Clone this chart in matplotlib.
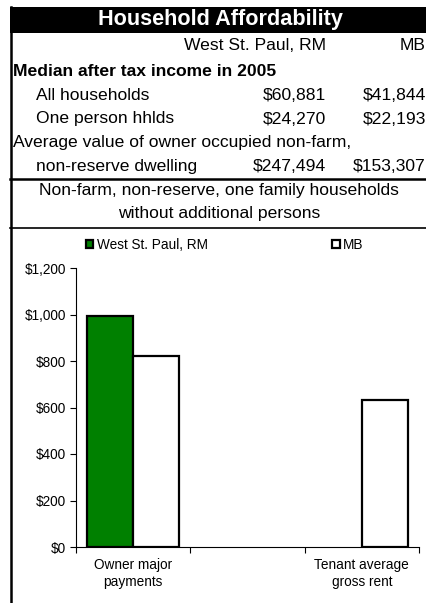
import matplotlib
matplotlib.use("Agg")
import matplotlib.pyplot as plt
import numpy as np
from matplotlib.patches import Rectangle
from matplotlib.lines import Line2D

plt.rcParams['font.family'] = ['Liberation Sans', 'DejaVu Sans']

# ---- data ----
title = "Household Affordability"
col_headers = ["West St. Paul, RM", "MB"]
income_label = "Median after tax income in 2005"
income_rows = ["All households", "One person hhlds"]
income_wsp = ["$60,881", "$24,270"]
income_mb = ["$41,844", "$22,193"]
dwelling_label = ["Average value of owner occupied non-farm,", "non-reserve dwelling"]
dwelling_wsp = "$247,494"
dwelling_mb = "$153,307"
note_lines = ["Non-farm, non-reserve, one family households", "without additional persons"]

categories = ["Owner major\npayments", "", "Tenant average\ngross rent"]
series_names = ["West St. Paul, RM", "MB"]
wsp_values = [995, np.nan, np.nan]
mb_values = [822, np.nan, 632]
yticks = [0, 200, 400, 600, 800, 1000, 1200]
ytick_labels = ["$0", "$200", "$400", "$600", "$800", "$1,000", "$1,200"]

W, H = 427, 603
fig = plt.figure(figsize=(W / 100, H / 100), dpi=100)

def fx(px):
    return px / W

def fy(py):
    return 1 - py / H

# frame: left vertical line, title bar, separators
fig.add_artist(Line2D([fx(11), fx(11)], [fy(7), fy(603)], color='black', lw=1.8))
fig.add_artist(Rectangle((fx(10), fy(33)), fx(427) - fx(10), fy(7) - fy(33),
                         facecolor='black', edgecolor='none'))
fig.add_artist(Line2D([fx(10), fx(427)], [fy(179), fy(179)], color='black', lw=1.8))
fig.add_artist(Line2D([fx(10), fx(427)], [fy(228), fy(228)], color='black', lw=1.2))

fs = 12.6
fig.text(fx(220), fy(20), title, color='white', fontsize=15.6, fontweight='bold',
         ha='center', va='center')
fig.text(fx(326), fy(46), col_headers[0], fontsize=fs, ha='right', va='center')
fig.text(fx(426), fy(46), col_headers[1], fontsize=fs, ha='right', va='center')
fig.text(fx(13), fy(71), income_label, fontsize=fs, fontweight='bold', ha='left', va='center')
row_y = [95, 119]
for lab, a, b, y in zip(income_rows, income_wsp, income_mb, row_y):
    fig.text(fx(36), fy(y), lab, fontsize=fs, ha='left', va='center')
    fig.text(fx(326), fy(y), a, fontsize=fs, ha='right', va='center')
    fig.text(fx(426), fy(y), b, fontsize=fs, ha='right', va='center')
fig.text(fx(13), fy(143), dwelling_label[0], fontsize=fs, ha='left', va='center')
fig.text(fx(36), fy(166), dwelling_label[1], fontsize=fs, ha='left', va='center')
fig.text(fx(326), fy(166), dwelling_wsp, fontsize=fs, ha='right', va='center')
fig.text(fx(426), fy(166), dwelling_mb, fontsize=fs, ha='right', va='center')
fig.text(fx(219), fy(191), note_lines[0], fontsize=fs, ha='center', va='center')
fig.text(fx(219), fy(213), note_lines[1], fontsize=fs, ha='center', va='center')

# ---- chart ----
cfs = 9.8
ax = fig.add_axes([fx(76), fy(547), fx(419) - fx(76), fy(268) - fy(547)])
x = np.arange(len(categories))
bw = 0.4
ax.bar(x - bw / 2, wsp_values, width=bw, color='#008000', edgecolor='black', lw=1.6,
       label=series_names[0])
ax.bar(x + bw / 2, mb_values, width=bw, color='white', edgecolor='black', lw=1.6,
       label=series_names[1])
ax.set_xlim(-0.5, len(categories) - 0.5)
ax.set_ylim(0, 1200)
ax.set_yticks(yticks)
ax.set_yticklabels(ytick_labels, fontsize=cfs)
ax.tick_params(axis='y', length=4, width=0.8, pad=3, direction='out')
ax.set_xticks(np.arange(len(categories) + 1) - 0.5)
ax.set_xticklabels([])
ax.tick_params(axis='x', which='major', length=4, width=0.8, direction='out')
ax.set_xticks(x, minor=True)
ax.set_xticklabels(categories, minor=True, fontsize=cfs, linespacing=1.3)
ax.tick_params(axis='x', which='minor', length=0, pad=8)
for s in ['top', 'right']:
    ax.spines[s].set_visible(False)
for s in ['left', 'bottom']:
    ax.spines[s].set_linewidth(0.8)

leg = ax.legend(ncol=2, loc='center left', bbox_to_anchor=(fx(86), fy(245)),
                bbox_transform=fig.transFigure, frameon=False, fontsize=cfs,
                handlelength=0.55, handleheight=0.55, handletextpad=0.25,
                columnspacing=9.15, borderaxespad=0, borderpad=0)

fig.savefig("out.png", dpi=100)
